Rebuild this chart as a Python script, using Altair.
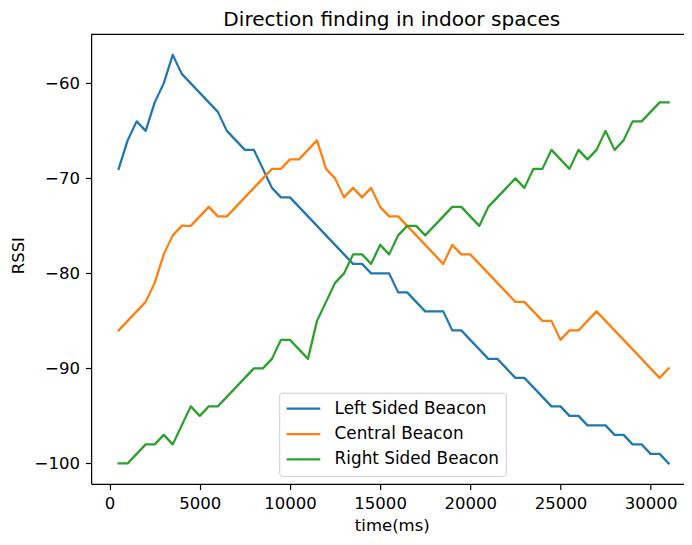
import altair as alt
import pandas as pd

chart_title = "Direction finding in indoor spaces"

time_ms = [500, 1000, 1500, 2000, 2500, 3000, 3500, 4000, 4500, 5000,
           5500, 6000, 6500, 7000, 7500, 8000, 8500, 9000, 9500, 10000,
           10500, 11000, 11500, 12000, 12500, 13000, 13500, 14000, 14500, 15000,
           15500, 16000, 16500, 17000, 17500, 18000, 18500, 19000, 19500, 20000,
           20500, 21000, 21500, 22000, 22500, 23000, 23500, 24000, 24500, 25000,
           25500, 26000, 26500, 27000, 27500, 28000, 28500, 29000, 29500, 30000,
           30500, 31000]

left_beacon = [-69, -66, -64, -65, -62, -60, -57, -59, -60, -61,
               -62, -63, -65, -66, -67, -67, -69, -71, -72, -72,
               -73, -74, -75, -76, -77, -78, -79, -79, -80, -80,
               -80, -82, -82, -83, -84, -84, -84, -86, -86, -87,
               -88, -89, -89, -90, -91, -91, -92, -93, -94, -94,
               -95, -95, -96, -96, -96, -97, -97, -98, -98, -99,
               -99, -100]

central_beacon = [-86, -85, -84, -83, -81, -78, -76, -75, -75, -74,
                  -73, -74, -74, -73, -72, -71, -70, -69, -69, -68,
                  -68, -67, -66, -69, -70, -72, -71, -72, -71, -73,
                  -74, -74, -75, -76, -77, -78, -79, -77, -78, -78,
                  -79, -80, -81, -82, -83, -83, -84, -85, -85, -87,
                  -86, -86, -85, -84, -85, -86, -87, -88, -89, -90,
                  -91, -90]

right_beacon = [-100, -100, -99, -98, -98, -97, -98, -96, -94, -95,
                -94, -94, -93, -92, -91, -90, -90, -89, -87, -87,
                -88, -89, -85, -83, -81, -80, -78, -78, -79, -77,
                -78, -76, -75, -75, -76, -75, -74, -73, -73, -74,
                -75, -73, -72, -71, -70, -71, -69, -69, -67, -68,
                -69, -67, -68, -67, -65, -67, -66, -64, -64, -63,
                -62, -62]

series_names = ["Left Sided Beacon", "Central Beacon", "Right Sided Beacon"]
series_colors = ["#1f77b4", "#ff7f0e", "#2ca02c"]
x_ticks = [0, 5000, 10000, 15000, 20000, 25000, 30000]
y_ticks = [-100, -90, -80, -70, -60]

rows = []
for name, vals in zip(series_names, [left_beacon, central_beacon, right_beacon]):
    for t, v in zip(time_ms, vals):
        rows.append({"time": t, "rssi": v, "series": name})
df = pd.DataFrame(rows)

W, H = 599, 454
FONT = "DejaVu Sans"
FS = 16.7

lines = alt.Chart(df).mark_line(strokeWidth=2.3, strokeJoin="round", strokeCap="square").encode(
    x=alt.X("time:Q",
            scale=alt.Scale(domain=[-1025, 31851], nice=False, zero=False),
            axis=alt.Axis(values=x_ticks, format="d", title="time(ms)",
                          titleX=303.8, titleY=47.5, titleBaseline="alphabetic",
                          titleAlign="center", titleAngle=0,
                          labelPadding=6.5, labelFlush=False)),
    y=alt.Y("rssi:Q",
            scale=alt.Scale(domain=[-102.15, -54.85], nice=False, zero=False),
            axis=alt.Axis(values=y_ticks, format="d", title="RSSI",
                          titleX=-68.7, titleY=223, titleBaseline="alphabetic",
                          titleAlign="center", titleAngle=270,
                          labelPadding=6, labelFlush=False)),
    color=alt.Color("series:N",
                    scale=alt.Scale(domain=series_names, range=series_colors),
                    legend=alt.Legend(orient="none", legendX=190, legendY=362,
                                      title=None, symbolType="stroke",
                                      symbolSize=34 * 34, symbolStrokeWidth=2.3,
                                      labelFont=FONT, labelFontSize=17, labelColor="black",
                                      labelOffset=13, labelLimit=400,
                                      clipHeight=20, rowPadding=5.7, padding=6,
                                      strokeColor="#cccccc", fillColor="white",
                                      cornerRadius=3)),
)

top_border = alt.Chart(pd.DataFrame({"a": [0]})).mark_rule(color="black", strokeWidth=1.2).encode(
    x=alt.value(0), x2=alt.value(W), y=alt.value(0)
)

title_text = alt.Chart(pd.DataFrame({"t": [chart_title]})).mark_text(
    font=FONT, fontSize=20.3, color="black", align="center", baseline="alphabetic"
).encode(text="t:N", x=alt.value(303.8), y=alt.value(-8.6))

chart = alt.layer(lines, top_border, title_text).properties(
    width=W, height=H,
    autosize=alt.AutoSizeParams(type="none"),
    padding={"left": 84, "top": 24, "right": 0, "bottom": 50},
).configure_view(stroke=None).configure_axis(
    grid=False, domainColor="black", domainWidth=1.2,
    tickColor="black", tickWidth=1.2, tickSize=5.8,
    labelFont=FONT, labelFontSize=FS, labelColor="black",
    titleFont=FONT, titleFontSize=FS, titleFontWeight="normal", titleColor="black",
)

chart.save("out.html", embed_options={"renderer": "svg", "actions": False})
